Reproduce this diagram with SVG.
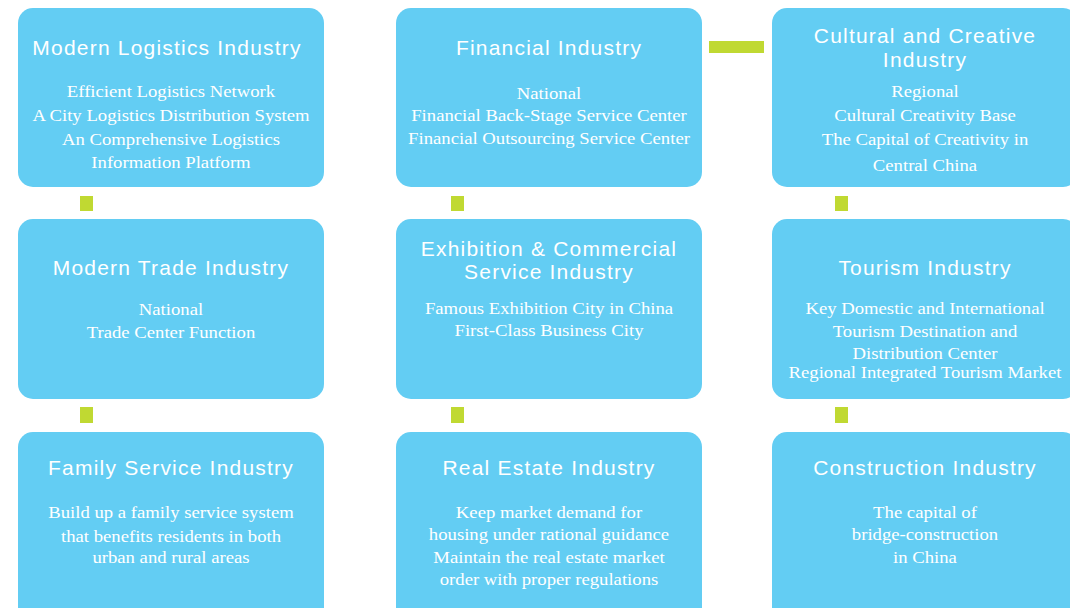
<svg xmlns="http://www.w3.org/2000/svg" width="1070" height="608" viewBox="0 0 1070 608">
<style>
.box{fill:#63CDF3;}
.conn{fill:#C0D932;}
.t{font-family:"Liberation Sans",Arial,sans-serif;font-size:21px;letter-spacing:1.2px;fill:#fff;text-anchor:middle;}
.b{font-family:"Liberation Serif","Times New Roman",serif;font-size:17px;fill:#fff;text-anchor:middle;}
</style>
<rect width="1070" height="608" fill="#fff"/>
<g id="connectors">
<rect class="conn" x="80" y="196" width="13" height="15"/>
<rect class="conn" x="80" y="407" width="13" height="16"/>
<rect class="conn" x="451" y="196" width="13" height="15"/>
<rect class="conn" x="451" y="407" width="13" height="16"/>
<rect class="conn" x="835" y="196" width="13" height="15"/>
<rect class="conn" x="835" y="407" width="13" height="16"/>
<rect class="conn" x="709" y="41" width="55" height="12"/>
</g>
<g id="logistics">
<rect class="box" x="18" y="8" width="306" height="179" rx="15"/>
<text class="t" x="167" y="55">Modern Logistics Industry</text>
<g transform="translate(171 0) scale(1.1 1)">
<text class="b" x="0" y="97">Efficient Logistics Network</text>
<text class="b" x="0" y="121">A City Logistics Distribution System</text>
<text class="b" x="0" y="145">An Comprehensive Logistics</text>
<text class="b" x="0" y="168">Information Platform</text>
</g>
</g>
<g id="financial">
<rect class="box" x="396" y="8" width="306" height="179" rx="15"/>
<text class="t" x="549" y="55">Financial Industry</text>
<g transform="translate(549 0) scale(1.1 1)">
<text class="b" x="0" y="99">National</text>
<text class="b" x="0" y="121">Financial Back-Stage Service Center</text>
<text class="b" x="0" y="144">Financial Outsourcing Service Center</text>
</g>
</g>
<g id="cultural">
<rect class="box" x="772" y="8" width="306" height="179" rx="15"/>
<text class="t" x="925" y="43">Cultural and Creative</text>
<text class="t" x="925" y="67">Industry</text>
<g transform="translate(925 0) scale(1.1 1)">
<text class="b" x="0" y="97">Regional</text>
<text class="b" x="0" y="121">Cultural Creativity Base</text>
<text class="b" x="0" y="145">The Capital of Creativity in</text>
<text class="b" x="0" y="171">Central China</text>
</g>
</g>
<g id="trade">
<rect class="box" x="18" y="219" width="306" height="180" rx="15"/>
<text class="t" x="171" y="275">Modern Trade Industry</text>
<g transform="translate(171 0) scale(1.1 1)">
<text class="b" x="0" y="315">National</text>
<text class="b" x="0" y="338">Trade Center Function</text>
</g>
</g>
<g id="exhibition">
<rect class="box" x="396" y="219" width="306" height="180" rx="15"/>
<text class="t" x="549" y="256">Exhibition &amp; Commercial</text>
<text class="t" x="549" y="279">Service Industry</text>
<g transform="translate(549 0) scale(1.1 1)">
<text class="b" x="0" y="314">Famous Exhibition City in China</text>
<text class="b" x="0" y="336">First-Class Business City</text>
</g>
</g>
<g id="tourism">
<rect class="box" x="772" y="219" width="306" height="180" rx="15"/>
<text class="t" x="925" y="275">Tourism Industry</text>
<g transform="translate(925 0) scale(1.1 1)">
<text class="b" x="0" y="314">Key Domestic and International</text>
<text class="b" x="0" y="337">Tourism Destination and</text>
<text class="b" x="0" y="359">Distribution Center</text>
<text class="b" x="0" y="378">Regional Integrated Tourism Market</text>
</g>
</g>
<g id="family">
<rect class="box" x="18" y="432" width="306" height="200" rx="15"/>
<text class="t" x="171" y="475">Family Service Industry</text>
<g transform="translate(171 0) scale(1.1 1)">
<text class="b" x="0" y="518">Build up a family service system</text>
<text class="b" x="0" y="542">that benefits residents in both</text>
<text class="b" x="0" y="563">urban and rural areas</text>
</g>
</g>
<g id="realestate">
<rect class="box" x="396" y="432" width="306" height="200" rx="15"/>
<text class="t" x="549" y="475">Real Estate Industry</text>
<g transform="translate(549 0) scale(1.1 1)">
<text class="b" x="0" y="518">Keep market demand for</text>
<text class="b" x="0" y="540">housing under rational guidance</text>
<text class="b" x="0" y="563">Maintain the real estate market</text>
<text class="b" x="0" y="585">order with proper regulations</text>
</g>
</g>
<g id="construction">
<rect class="box" x="772" y="432" width="306" height="200" rx="15"/>
<text class="t" x="925" y="475">Construction Industry</text>
<g transform="translate(925 0) scale(1.1 1)">
<text class="b" x="0" y="518">The capital of</text>
<text class="b" x="0" y="540">bridge-construction</text>
<text class="b" x="0" y="563">in China</text>
</g>
</g>
</svg>
